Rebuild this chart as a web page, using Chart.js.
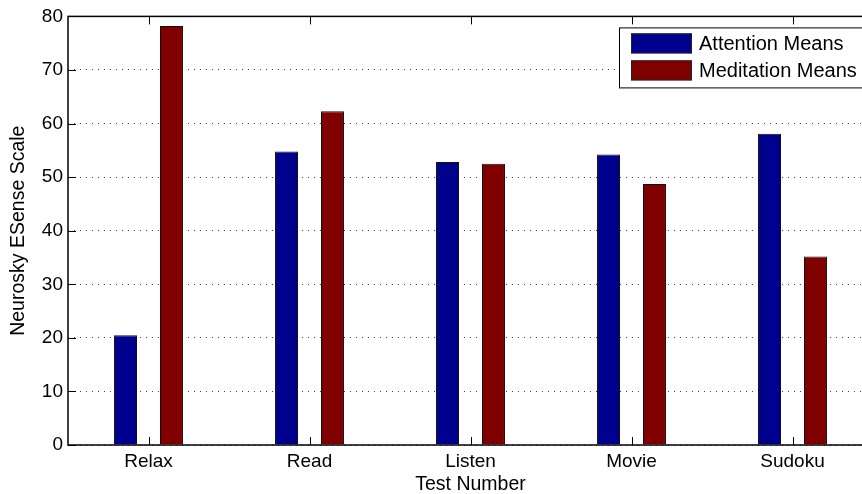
<!DOCTYPE html>
<html lang="en">
<head>
  <meta charset="UTF-8">
  <title>Neurosky ESense means</title>
  <style>
    html, body {
      margin: 0;
      padding: 0;
      background: #fff;
      overflow: hidden;
    }
  </style>
</head>
<body>
  <canvas id="esenseChart" width="880" height="494"></canvas>
  <script src="https://cdn.jsdelivr.net/npm/chart.js"></script>
  <script>
    // Data
    const tests = ['Relax', 'Read', 'Listen', 'Movie', 'Sudoku'];
    const attentionMeans = [20.5, 54.8, 52.8, 54.2, 58.1];
    const meditationMeans = [78.2, 62.3, 52.5, 48.7, 35.2];
    const yMin = 0;
    const yMax = 80;
    const yStep = 10;

    Chart.defaults.font.family = "'Liberation Sans', Arial, sans-serif";
    Chart.defaults.color = '#000';

    // MATLAB style box: frame, inward tick marks and a boxed legend
    const matlabAxes = {
      id: 'matlabAxes',
      afterDatasetsDraw(chart) {
        const { ctx, chartArea: a, scales } = chart;
        ctx.save();
        ctx.strokeStyle = '#000';
        ctx.lineWidth = 1.5;
        ctx.strokeRect(a.left, a.top, a.right - a.left, a.bottom - a.top);

        ctx.lineWidth = 1;
        ctx.beginPath();
        scales.x.ticks.forEach((t, i) => {
          const x = Math.round(scales.x.getPixelForTick(i)) + 0.5;
          ctx.moveTo(x, a.bottom); ctx.lineTo(x, a.bottom - 8);
          ctx.moveTo(x, a.top); ctx.lineTo(x, a.top + 8);
        });
        scales.y.ticks.forEach(t => {
          const y = Math.round(scales.y.getPixelForValue(t.value)) + 0.5;
          ctx.moveTo(a.left, y); ctx.lineTo(a.left + 8, y);
          ctx.moveTo(a.right, y); ctx.lineTo(a.right - 8, y);
        });
        ctx.stroke();

        // legend
        const bx = a.right - 254;
        const by = a.top + 11;
        ctx.fillStyle = '#fff';
        ctx.fillRect(bx, by, 280, 60);
        ctx.strokeStyle = '#000';
        ctx.strokeRect(bx + 0.5, by + 0.5, 280, 60);
        ctx.font = "20px 'Liberation Sans', Arial, sans-serif";
        ctx.textBaseline = 'middle';
        chart.data.datasets.forEach((ds, i) => {
          const sy = by + 6 + i * 27;
          ctx.fillStyle = ds.backgroundColor;
          ctx.fillRect(bx + 12, sy, 61, 20);
          ctx.strokeStyle = '#222';
          ctx.strokeRect(bx + 12.5, sy + 0.5, 60, 19);
          ctx.fillStyle = '#000';
          ctx.fillText(ds.label, bx + 80, sy + 11);
        });
        ctx.restore();
      }
    };

    new Chart(document.getElementById('esenseChart'), {
      type: 'bar',
      data: {
        labels: tests,
        datasets: [
          {
            label: 'Attention Means',
            data: attentionMeans,
            backgroundColor: 'rgb(0, 0, 143)',
            borderColor: '#111',
            borderWidth: 1,
            barPercentage: 0.5,
            categoryPercentage: 0.571
          },
          {
            label: 'Meditation Means',
            data: meditationMeans,
            backgroundColor: 'rgb(128, 0, 0)',
            borderColor: '#111',
            borderWidth: 1,
            barPercentage: 0.5,
            categoryPercentage: 0.571
          }
        ]
      },
      options: {
        responsive: false,
        animation: false,
        devicePixelRatio: 1,
        layout: { padding: { top: 15, right: 7, left: 0, bottom: 0 } },
        plugins: {
          legend: { display: false },
          tooltip: { enabled: false }
        },
        scales: {
          x: {
            grid: { display: false, drawTicks: false },
            border: { display: false },
            ticks: { font: { size: 19 }, padding: 5, color: '#000' },
            title: {
              display: true,
              text: 'Test Number',
              font: { size: 19.5, lineHeight: 1 },
              padding: { top: 0, bottom: 0 },
              color: '#000'
            },
            afterFit: s => { s.height = 49; }
          },
          y: {
            min: yMin,
            max: yMax,
            ticks: { stepSize: yStep, font: { size: 19 }, padding: 5, color: '#000' },
            grid: { color: '#444', lineWidth: 1, drawTicks: false },
            border: { display: false, dash: [1, 5] },
            title: {
              display: true,
              text: 'Neurosky ESense Scale',
              font: { size: 19.5, lineHeight: 1 },
              padding: { top: 8.5, bottom: 0 },
              color: '#000'
            },
            afterFit: s => { s.width = 68; }
          }
        }
      },
      plugins: [matlabAxes]
    });
  </script>
</body>
</html>
